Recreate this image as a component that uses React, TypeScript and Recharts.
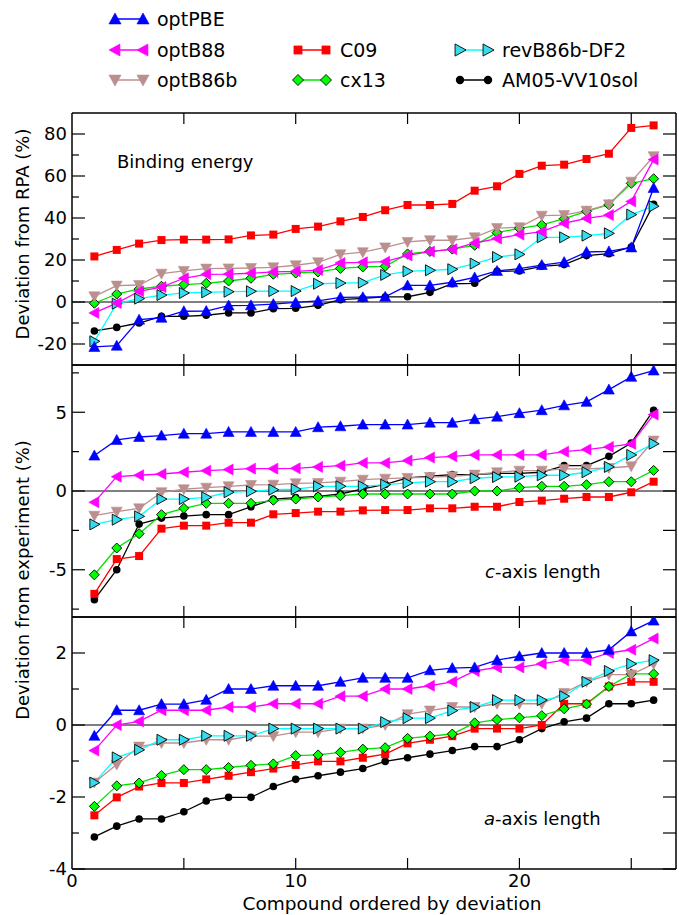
import React from 'react';
import { LineChart, Line, XAxis, YAxis, ReferenceLine } from 'recharts';

const FONT = '"DejaVu Sans", Verdana, sans-serif';

const COMPOUNDS = [1, 2, 3, 4, 5, 6, 7, 8, 9, 10, 11, 12, 13, 14, 15, 16, 17, 18, 19, 20, 21, 22, 23, 24, 25, 26];

// binding energy, deviation from RPA (%)
const BE_OPTPBE = [-21.4, -20.8, -8.4, -7.5, -4.4, -4.3, -1.7, -1.6, -1.0, -0.2, 0.5, 2.2, 2.3, 2.5, 7.9, 7.9, 9.4, 11.7, 14.8, 15.9, 17.6, 19.0, 23.8, 24.1, 26.0, 54.3];
const BE_OPTB88 = [-5.2, -0.5, 5.1, 7.1, 11.3, 13.2, 13.3, 13.7, 14.3, 14.6, 15.2, 18.6, 18.9, 19.2, 22.2, 24.0, 25.1, 28.1, 30.2, 32.1, 33.5, 37.5, 39.8, 41.4, 47.9, 67.8];
const BE_OPTB86B = [2.7, 7.8, 8.1, 13.5, 14.8, 15.9, 16.0, 16.2, 16.5, 17.5, 18.9, 22.7, 23.7, 26.0, 28.6, 29.4, 29.4, 30.8, 35.2, 35.6, 41.1, 41.4, 43.5, 46.5, 57.3, 69.4];
const BE_C09 = [21.7, 24.8, 27.8, 29.5, 29.7, 29.7, 29.8, 31.7, 32.1, 34.8, 35.9, 38.4, 40.5, 43.7, 46.2, 46.2, 46.7, 53.0, 55.1, 61.0, 64.9, 65.4, 68.1, 70.6, 82.9, 84.1];
const BE_CX13 = [-0.6, 3.8, 6.2, 7.5, 8.3, 8.9, 10.0, 11.3, 13.2, 13.8, 14.3, 16.0, 16.7, 17.0, 22.9, 24.1, 25.2, 27.0, 33.0, 35.1, 36.7, 39.7, 43.2, 46.3, 56.5, 58.7];
const BE_REVB86B = [-18.7, -0.8, 1.6, 3.3, 4.3, 4.6, 4.9, 5.1, 5.2, 5.2, 8.7, 9.0, 9.2, 12.9, 14.6, 15.1, 15.6, 18.3, 21.4, 22.7, 30.8, 30.8, 31.6, 32.7, 41.6, 45.6];
const BE_AM05 = [-13.8, -12.1, -10.0, -6.8, -6.8, -6.3, -5.2, -5.2, -3.2, -3.0, -1.6, 1.1, 1.7, 2.4, 2.5, 4.6, 8.7, 8.9, 14.6, 14.8, 17.0, 17.8, 22.1, 23.0, 26.2, 46.5];

// c-axis length, deviation from experiment (%)
const C_OPTPBE = [2.25, 3.24, 3.43, 3.52, 3.64, 3.64, 3.75, 3.75, 3.75, 3.75, 4.05, 4.11, 4.22, 4.22, 4.22, 4.34, 4.34, 4.56, 4.72, 4.94, 5.13, 5.44, 5.66, 6.44, 7.25, 7.65];
const C_OPTB88 = [-0.72, 0.91, 1.0, 1.08, 1.19, 1.29, 1.36, 1.42, 1.42, 1.44, 1.53, 1.61, 1.78, 1.78, 1.93, 2.12, 2.2, 2.29, 2.29, 2.29, 2.29, 2.5, 2.63, 2.8, 2.99, 4.85];
const C_OPTB86B = [-1.57, -1.31, -1.1, -0.08, 0.11, 0.21, 0.3, 0.38, 0.4, 0.49, 0.51, 0.59, 0.72, 0.78, 0.83, 0.89, 0.93, 1.04, 1.19, 1.29, 1.29, 1.4, 1.4, 1.46, 1.57, 3.2];
const C_C09 = [-6.53, -4.32, -4.13, -2.39, -2.2, -2.2, -2.01, -2.01, -1.48, -1.4, -1.31, -1.31, -1.23, -1.21, -1.21, -1.1, -1.1, -1.0, -1.0, -0.7, -0.61, -0.49, -0.38, -0.38, -0.08, 0.59];
const C_CX13 = [-5.32, -3.62, -2.71, -1.5, -1.1, -0.78, -0.78, -0.78, -0.59, -0.51, -0.38, -0.3, -0.19, -0.19, -0.19, -0.19, -0.19, 0, 0, 0.21, 0.3, 0.3, 0.4, 0.59, 0.59, 1.31];
const C_REVB86B = [-2.12, -1.82, -1.61, -0.51, -0.51, -0.4, -0.08, -0.02, 0.08, 0.11, 0.3, 0.3, 0.3, 0.4, 0.51, 0.59, 0.59, 0.81, 0.89, 0.91, 1.0, 1.0, 1.19, 1.53, 2.29, 3.0];
const C_AM05 = [-6.9, -5.0, -2.1, -1.72, -1.59, -1.5, -1.5, -1.0, -0.51, -0.42, -0.34, -0.19, 0.13, 0.42, 0.83, 0.95, 1.04, 1.04, 1.12, 1.12, 1.19, 1.61, 1.61, 2.2, 3.05, 5.13];

// a-axis length, deviation from experiment (%)
const A_OPTPBE = [-0.3, 0.41, 0.41, 0.58, 0.58, 0.7, 1.0, 1.0, 1.09, 1.09, 1.09, 1.2, 1.31, 1.31, 1.31, 1.52, 1.58, 1.6, 1.8, 1.91, 2.0, 2.0, 2.0, 2.09, 2.6, 2.9];
const A_OPTB88 = [-0.71, 0, 0.1, 0.41, 0.41, 0.41, 0.5, 0.5, 0.59, 0.59, 0.59, 0.8, 0.8, 1.0, 1.0, 1.09, 1.2, 1.5, 1.6, 1.6, 1.7, 1.8, 1.8, 2.0, 2.09, 2.4];
const A_OPTB86B = [-1.6, -1.1, -0.6, -0.5, -0.5, -0.41, -0.41, -0.31, -0.31, -0.2, -0.2, -0.1, -0.1, 0, 0.3, 0.4, 0.5, 0.5, 0.59, 0.59, 0.59, 0.89, 1.2, 1.4, 1.4, 1.7];
const A_C09 = [-2.51, -2.01, -1.71, -1.61, -1.61, -1.51, -1.41, -1.31, -1.21, -1.11, -1.01, -1.01, -0.91, -0.81, -0.51, -0.41, -0.31, -0.1, -0.1, -0.1, 0, 0.59, 0.59, 1.07, 1.2, 1.2];
const A_CX13 = [-2.26, -1.69, -1.61, -1.4, -1.24, -1.24, -1.18, -1.12, -1.08, -0.85, -0.83, -0.76, -0.67, -0.63, -0.37, -0.31, -0.25, 0.06, 0.15, 0.2, 0.26, 0.45, 0.58, 1.07, 1.42, 1.42];
const A_REVB86B = [-1.6, -0.9, -0.69, -0.41, -0.41, -0.3, -0.3, -0.3, -0.1, -0.1, -0.1, -0.1, -0.1, 0.08, 0.19, 0.19, 0.4, 0.5, 0.69, 0.69, 0.69, 0.8, 1.2, 1.5, 1.7, 1.8];
const A_AM05 = [-3.11, -2.81, -2.61, -2.61, -2.41, -2.11, -2.01, -2.01, -1.71, -1.51, -1.41, -1.31, -1.21, -1.01, -0.91, -0.81, -0.71, -0.6, -0.6, -0.41, -0.1, 0.09, 0.19, 0.59, 0.59, 0.69];

const X_TICKS = [0, 5, 10, 15, 20, 25];
const X_LABELS = [0, 10, 20];
const BE_TICKS = [-20, -10, 0, 10, 20, 30, 40, 50, 60, 70, 80];
const BE_LABELS = [-20, 0, 20, 40, 60, 80];
const C_TICKS = [-7.5, -5, -2.5, 0, 2.5, 5, 7.5];
const C_LABELS = [-5, 0, 5];
const A_TICKS = [-4, -3, -2, -1, 0, 1, 2];
const A_LABELS = [-4, -2, 0, 2];

type Shape = 'up' | 'down' | 'left' | 'right' | 'square' | 'diamond' | 'circle';

const STYLE: Record<string, { name: string; line: string; fill: string; edge: string; shape: Shape }> = {
  optPBE: { name: 'optPBE', line: '#0000ff', fill: '#0000ff', edge: '#0000ff', shape: 'up' },
  optB88: { name: 'optB88', line: '#ff00ff', fill: '#ff00ff', edge: '#ff00ff', shape: 'left' },
  optB86b: { name: 'optB86b', line: '#bc8f8f', fill: '#bc8f8f', edge: '#bc8f8f', shape: 'down' },
  C09: { name: 'C09', line: '#ff0000', fill: '#ff0000', edge: '#ff0000', shape: 'square' },
  cx13: { name: 'cx13', line: '#00e000', fill: '#00ff00', edge: '#000000', shape: 'diamond' },
  revB86b: { name: 'revB86b-DF2', line: '#00ffff', fill: '#33ddee', edge: '#000000', shape: 'right' },
  AM05: { name: 'AM05-VV10sol', line: '#000000', fill: '#000000', edge: '#000000', shape: 'circle' },
};

// later entries are drawn on top
const DRAW_ORDER = ['AM05', 'C09', 'cx13', 'optB86b', 'revB86b', 'optB88', 'optPBE'];

function rows(cols: Record<string, number[]>) {
  return COMPOUNDS.map((n, i) => {
    const r: any = { n };
    Object.keys(cols).forEach((k) => (r[k] = cols[k][i]));
    return r;
  });
}

const BE_DATA = rows({ optPBE: BE_OPTPBE, optB88: BE_OPTB88, optB86b: BE_OPTB86B, C09: BE_C09, cx13: BE_CX13, revB86b: BE_REVB86B, AM05: BE_AM05 });
const C_DATA = rows({ optPBE: C_OPTPBE, optB88: C_OPTB88, optB86b: C_OPTB86B, C09: C_C09, cx13: C_CX13, revB86b: C_REVB86B, AM05: C_AM05 });
const A_DATA = rows({ optPBE: A_OPTPBE, optB88: A_OPTB88, optB86b: A_OPTB86B, C09: A_C09, cx13: A_CX13, revB86b: A_REVB86B, AM05: A_AM05 });

function Marker({ shape, x, y, fill, edge, s = 1 }: { shape: Shape; x: number; y: number; fill: string; edge: string; s?: number }) {
  const a = 5.5 * s;
  const b = 4.5 * s;
  const sw = edge === fill ? 0.6 : 0.9;
  switch (shape) {
    case 'up':
      return <polygon points={`${x},${y - a} ${x - a},${y + b} ${x + a},${y + b}`} fill={fill} stroke={edge} strokeWidth={sw} />;
    case 'down':
      return <polygon points={`${x},${y + a} ${x - a},${y - b} ${x + a},${y - b}`} fill={fill} stroke={edge} strokeWidth={sw} />;
    case 'left':
      return <polygon points={`${x - a},${y} ${x + b},${y - a} ${x + b},${y + a}`} fill={fill} stroke={edge} strokeWidth={sw} />;
    case 'right':
      return <polygon points={`${x + a},${y} ${x - b},${y - a} ${x - b},${y + a}`} fill={fill} stroke={edge} strokeWidth={sw} />;
    case 'square':
      return <rect x={x - 4 * s} y={y - 4 * s} width={8 * s} height={8 * s} fill={fill} />;
    case 'diamond':
      return <polygon points={`${x},${y - 5 * s} ${x + 5 * s},${y} ${x},${y + 5 * s} ${x - 5 * s},${y}`} fill={fill} stroke={edge} strokeWidth={sw} />;
    default:
      return <circle cx={x} cy={y} r={3.8 * s} fill={fill} />;
  }
}

const leftTick = (labels: number[]) => (p: any) => {
  const v = p.payload.value;
  const major = labels.includes(v);
  return (
    <g key={`l${p.index}`}>
      <path d={`M${p.x},${p.y}h${major ? 13 : 7}`} stroke="#000" strokeWidth={1.2} fill="none" />
      {major && (
        <text x={p.x - 5} y={p.y} dy="0.36em" textAnchor="end" fontSize={18} fontFamily={FONT} fill="#000">
          {String(v)}
        </text>
      )}
    </g>
  );
};

const rightTick = (p: any) => <path key={`r${p.index}`} d={`M${p.x},${p.y}h-13`} stroke="#000" strokeWidth={1.2} fill="none" />;

const bottomTick = (showLabels: boolean) => (p: any) => {
  const v = p.payload.value;
  return (
    <g key={`b${p.index}`}>
      {v !== 0 && <path d={`M${p.x},${p.y}v-11`} stroke="#000" strokeWidth={1.2} fill="none" />}
      {showLabels && X_LABELS.includes(v) && (
        <text x={p.x} y={p.y + 18} textAnchor="middle" fontSize={18} fontFamily={FONT} fill="#000">
          {String(v)}
        </text>
      )}
    </g>
  );
};

const topTick = (p: any) => {
  const v = p.payload.value;
  return <g key={`t${p.index}`}>{v !== 0 && <path d={`M${p.x},${p.y}v11`} stroke="#000" strokeWidth={1.2} fill="none" />}</g>;
};

const AXIS_LINE = { stroke: '#000', strokeWidth: 1.5 };

function Panel({ top, height, data, domain, ticks, labels, xLabels }: any) {
  const pad = xLabels ? 32 : 0;
  return (
    <div style={{ position: 'absolute', left: 0, top: top - 1 }}>
      <LineChart width={679} height={height + pad + 2} data={data} margin={{ top: 0, right: 0, bottom: pad, left: 0 }}>
        <XAxis xAxisId="b" dataKey="n" type="number" domain={[0, 27]} ticks={X_TICKS} interval={0} orientation="bottom" height={1} tickSize={0} tickMargin={0} tickLine={false} axisLine={AXIS_LINE} tick={bottomTick(!!xLabels)} allowDataOverflow />
        <XAxis xAxisId="t" dataKey="n" type="number" domain={[0, 27]} ticks={X_TICKS} interval={0} orientation="top" height={1} tickSize={0} tickMargin={0} tickLine={false} axisLine={AXIS_LINE} tick={topTick} allowDataOverflow />
        <YAxis yAxisId="l" type="number" domain={domain} ticks={ticks} interval={0} orientation="left" width={72} tickSize={0} tickMargin={0} tickLine={false} axisLine={AXIS_LINE} tick={leftTick(labels)} allowDataOverflow />
        <YAxis yAxisId="r" type="number" domain={domain} ticks={ticks} interval={0} orientation="right" width={3} tickSize={0} tickMargin={0} tickLine={false} axisLine={AXIS_LINE} tick={rightTick} allowDataOverflow />
        <ReferenceLine xAxisId="b" yAxisId="l" y={0} stroke="#000" strokeWidth={1} />
        {DRAW_ORDER.map((k) => {
          const st = STYLE[k];
          return (
            <Line
              key={k}
              xAxisId="b"
              yAxisId="l"
              dataKey={k}
              name={st.name}
              stroke={st.line}
              strokeWidth={1.3}
              isAnimationActive={false}
              dot={(p: any) => <Marker key={`${k}${p.index}`} shape={st.shape} x={p.cx} y={p.cy} fill={st.fill} edge={st.edge} />}
              activeDot={false}
            />
          );
        })}
      </LineChart>
    </div>
  );
}

const LEGEND = [
  { key: 'optPBE', x: 115, y: 19 },
  { key: 'optB88', x: 115, y: 50 },
  { key: 'optB86b', x: 115, y: 80 },
  { key: 'C09', x: 298, y: 50 },
  { key: 'cx13', x: 298, y: 80 },
  { key: 'revB86b', x: 460, y: 50 },
  { key: 'AM05', x: 460, y: 80 },
];

export default function App() {
  return (
    <div style={{ position: 'absolute', left: 0, top: 0, width: 679, height: 915, background: '#fff', fontFamily: FONT }}>
      <Panel top={113} height={252} data={BE_DATA} domain={[-30, 90]} ticks={BE_TICKS} labels={BE_LABELS} />
      <Panel top={365} height={252} data={C_DATA} domain={[-8, 8]} ticks={C_TICKS} labels={C_LABELS} />
      <Panel top={617} height={252} data={A_DATA} domain={[-4, 3]} ticks={A_TICKS} labels={A_LABELS} xLabels />
      <svg width={679} height={915} style={{ position: 'absolute', left: 0, top: 0, pointerEvents: 'none' }}>
        {LEGEND.map((l) => {
          const st = STYLE[l.key];
          return (
            <g key={l.key}>
              <line x1={l.x} x2={l.x + 28} y1={l.y} y2={l.y} stroke={st.line} strokeWidth={1.5} />
              <Marker shape={st.shape} x={l.x} y={l.y} fill={st.fill} edge={st.edge} s={1.1} />
              <Marker shape={st.shape} x={l.x + 28} y={l.y} fill={st.fill} edge={st.edge} s={1.1} />
              <text x={l.x + 42} y={l.y} dy="0.36em" fontSize={19} fontFamily={FONT} fill="#000">
                {st.name}
              </text>
            </g>
          );
        })}
        <text x={117} y={168} fontSize={18} fontFamily={FONT} fill="#000">Binding energy</text>
        <text x={485} y={578} fontSize={18} fontFamily={FONT} fill="#000">
          <tspan fontStyle="italic">c</tspan>-axis length
        </text>
        <text x={484} y={825} fontSize={18} fontFamily={FONT} fill="#000">
          <tspan fontStyle="italic">a</tspan>-axis length
        </text>
        <text transform="translate(29,234) rotate(-90)" textAnchor="middle" fontSize={18} fontFamily={FONT} fill="#000">
          Deviation from RPA (%)
        </text>
        <text transform="translate(29,580) rotate(-90)" textAnchor="middle" fontSize={18} fontFamily={FONT} fill="#000">
          Deviation from experiment (%)
        </text>
        <text x={392} y={910} textAnchor="middle" fontSize={18.5} fontFamily={FONT} fill="#000">
          Compound ordered by deviation
        </text>
      </svg>
    </div>
  );
}
